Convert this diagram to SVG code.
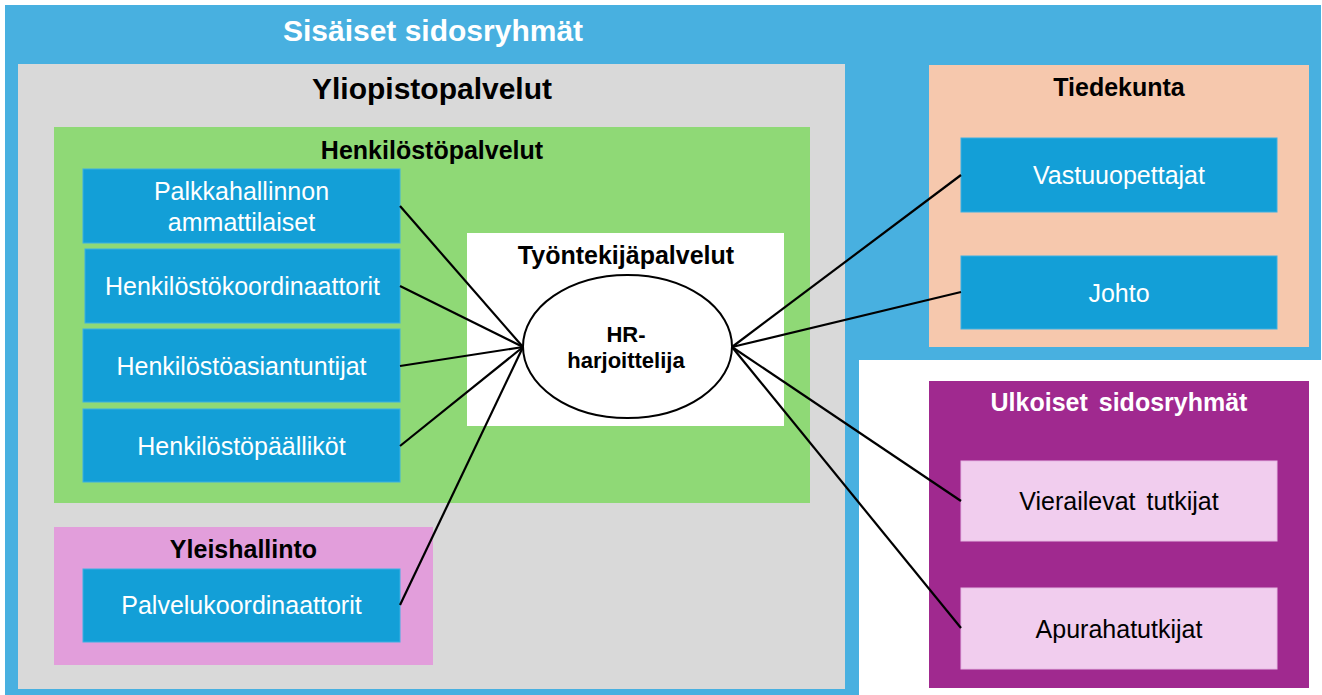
<svg xmlns="http://www.w3.org/2000/svg" width="1322" height="695" viewBox="0 0 1322 695">
<style>
text{font-family:"Liberation Sans",Arial,sans-serif;text-anchor:middle}
.t{font-weight:bold}
.w{fill:#ffffff}
.k{fill:#000000}
.box{fill:#139fd7;stroke:#3db0e3;stroke-width:1}
.lbox{fill:#f1cdee;stroke:#e6b8e3;stroke-width:1}
.lbl{font-size:25px}
.conn{stroke:#000;stroke-width:2.2;fill:none}
</style>
<rect x="0" y="0" width="1322" height="695" fill="#ffffff"/>
<g id="sisaiset">
<polygon points="5,5 1321,5 1321,360 859,360 859,695 5,695" fill="#48b0e0"/>
<text class="t w" x="433" y="41" font-size="30">Sisäiset sidosryhmät</text>
</g>
<g id="yliopistopalvelut">
<rect x="18" y="64" width="827" height="625" fill="#d9d9d9"/>
<text class="t k" x="432" y="99" font-size="30">Yliopistopalvelut</text>
</g>
<g id="henkilostopalvelut">
<rect x="54" y="127" width="756" height="376" fill="#8fd976"/>
<text class="t k" x="432" y="159" font-size="25">Henkilöstöpalvelut</text>
</g>
<g id="palkka">
<rect class="box" x="83" y="169" width="317" height="74"/>
<text class="lbl w" x="241.5" y="200">Palkkahallinnon</text>
<text class="lbl w" x="241.5" y="231">ammattilaiset</text>
</g>
<g id="koordinaattorit">
<rect class="box" x="85" y="249" width="315" height="74"/>
<text class="lbl w" x="242.5" y="295">Henkilöstökoordinaattorit</text>
</g>
<g id="asiantuntijat">
<rect class="box" x="83" y="329" width="317" height="73"/>
<text class="lbl w" x="241.5" y="375">Henkilöstöasiantuntijat</text>
</g>
<g id="paalikot">
<rect class="box" x="83" y="409" width="317" height="73"/>
<text class="lbl w" x="241.5" y="455">Henkilöstöpäälliköt</text>
</g>
<g id="yleishallinto">
<rect x="54" y="527" width="379" height="138" fill="#e29edb"/>
<text class="t k" x="243.5" y="558" font-size="25">Yleishallinto</text>
</g>
<g id="palvelukoordinaattorit">
<rect class="box" x="83" y="569" width="317" height="73"/>
<text class="lbl w" x="241.5" y="614">Palvelukoordinaattorit</text>
</g>
<g id="tyontekijapalvelut">
<rect x="467" y="233" width="317" height="193" fill="#ffffff"/>
<text class="t k" x="626" y="264" font-size="25">Työntekijäpalvelut</text>
</g>
<g id="tiedekunta">
<rect x="929" y="65" width="380" height="282" fill="#f6c8ad"/>
<text class="t k" x="1119" y="96" font-size="25">Tiedekunta</text>
</g>
<g id="vastuuopettajat">
<rect class="box" x="961" y="138" width="316" height="74"/>
<text class="lbl w" x="1119" y="184">Vastuuopettajat</text>
</g>
<g id="johto">
<rect class="box" x="961" y="256" width="316" height="73"/>
<text class="lbl w" x="1119" y="302">Johto</text>
</g>
<g id="ulkoiset">
<rect x="929" y="381" width="380" height="307" fill="#a0298f"/>
<text class="t w" x="1119" y="411" font-size="25" word-spacing="4">Ulkoiset sidosryhmät</text>
</g>
<g id="vierailevat">
<rect class="lbox" x="961" y="461" width="316" height="80"/>
<text class="lbl k" x="1119" y="510" word-spacing="4">Vierailevat tutkijat</text>
</g>
<g id="apurahatutkijat">
<rect class="lbox" x="961" y="588" width="316" height="81"/>
<text class="lbl k" x="1119" y="638">Apurahatutkijat</text>
</g>
<g id="connectors">
<line class="conn" x1="400" y1="206" x2="523" y2="347"/>
<line class="conn" x1="400" y1="286" x2="523" y2="347"/>
<line class="conn" x1="400" y1="366" x2="523" y2="347"/>
<line class="conn" x1="400" y1="446" x2="523" y2="347"/>
<line class="conn" x1="400" y1="605" x2="523" y2="347"/>
<line class="conn" x1="732" y1="347" x2="961" y2="175"/>
<line class="conn" x1="732" y1="347" x2="961" y2="292"/>
<line class="conn" x1="732" y1="347" x2="961" y2="501"/>
<line class="conn" x1="732" y1="347" x2="961" y2="628"/>
</g>
<g id="hr-harjoittelija">
<ellipse cx="627.5" cy="346.5" rx="104.5" ry="71.5" fill="#ffffff" stroke="#000" stroke-width="2"/>
<text class="t k" x="626" y="342" font-size="22">HR-</text>
<text class="t k" x="626" y="368" font-size="22">harjoittelija</text>
</g>
</svg>
